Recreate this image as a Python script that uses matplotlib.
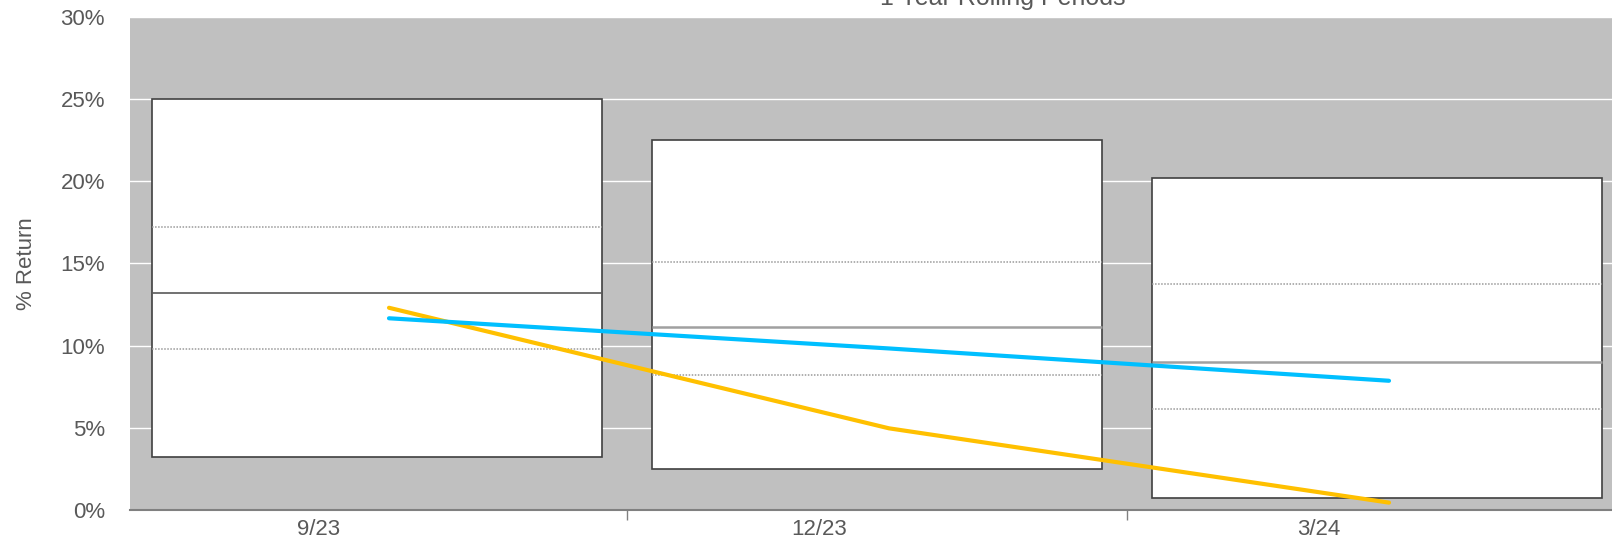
import numpy as np
import matplotlib
matplotlib.use("Agg")
import matplotlib.pyplot as plt
from matplotlib.ticker import FuncFormatter, FixedLocator

# Données (en %)
periodes = ["9/23", "12/23", "3/24"]
haut = [25.0, 22.5, 20.2]
quartile_haut = [17.2, 15.1, 13.75]
mediane = [13.2, 11.15, 9.0]
quartile_bas = [9.8, 8.2, 6.1]
bas = [3.2, 2.45, 0.7]
serie_jaune = [12.3, 4.95, 0.42]
serie_bleue = [11.66, 9.82, 7.85]


def main():
    plt.rcParams["font.family"] = ["Liberation Sans", "DejaVu Sans"]
    gris_texte = "#595959"

    fig = plt.figure(figsize=(16.12, 5.41), dpi=100)
    ax = fig.add_axes([130 / 1612, 0.0582, 1497 / 1612, 0.9095])
    ax.set_facecolor("#c0c0c0")

    x = np.arange(len(periodes))
    largeur = 0.9
    decal_ligne = 0.024

    # Boîtes flottantes
    ax.bar(x, np.array(haut) - np.array(bas), bottom=bas,
           width=largeur, color="white", edgecolor="#404040",
           linewidth=1.2, zorder=2)

    # Lignes de quartiles et médianes
    couleurs_med = ["#595959", "#a0a0a0", "#a0a0a0"]
    epaisseurs_med = [1.2, 1.8, 1.8]
    for i in range(len(periodes)):
        x0 = x[i] - largeur / 2
        x1 = x[i] + largeur / 2
        ax.hlines([quartile_haut[i], quartile_bas[i]], x0, x1,
                  colors="#9a9a9a", linestyles=(0, (1, 1)),
                  linewidth=1.1, zorder=3)
        ax.hlines(mediane[i], x0, x1, colors=couleurs_med[i],
                  linewidth=epaisseurs_med[i], zorder=3)

    # Séries
    ax.plot(x + decal_ligne, serie_jaune, color="#ffc000", lw=3.0,
            solid_capstyle="round", zorder=5)
    ax.plot(x + decal_ligne, serie_bleue, color="#00bfff", lw=3.0,
            solid_capstyle="round", zorder=5)

    # Axes
    ax.set_xlim(-0.494, len(periodes) - 0.5)
    ax.set_ylim(0, 30)
    ax.set_yticks(np.arange(0, 31, 5))
    ax.yaxis.set_major_formatter(FuncFormatter(lambda v, p: f"{v:.0f}%"))
    ax.grid(axis="y", color="white", linewidth=1.0, zorder=0)
    ax.set_axisbelow(True)

    ax.xaxis.set_major_locator(FixedLocator(x[:-1] + 0.5))
    ax.xaxis.set_major_formatter(FuncFormatter(lambda v, p: ""))
    ax.xaxis.set_minor_locator(FixedLocator(x - 0.116))
    ax.set_xticklabels(periodes, minor=True)
    ax.tick_params(axis="x", which="major", length=7, width=1,
                   color="#808080", direction="out")
    ax.tick_params(axis="x", which="minor", length=0, pad=7,
                   labelsize=16, labelcolor=gris_texte)
    ax.tick_params(axis="y", length=0, pad=18, labelsize=16,
                   labelcolor=gris_texte)

    for cote in ["top", "right", "left"]:
        ax.spines[cote].set_visible(False)
    ax.spines["bottom"].set_color("#808080")
    ax.spines["bottom"].set_linewidth(1.5)

    ax.set_ylabel("% Return", fontsize=16, color=gris_texte)
    ax.yaxis.set_label_coords(-0.062, 0.5)

    fig.text(1003 / 1612, 1 - 5 / 541, "1 Year Rolling Periods",
             ha="center", va="baseline", fontsize=18, color=gris_texte)

    fig.savefig("out.png", dpi=100)


if __name__ == "__main__":
    main()
